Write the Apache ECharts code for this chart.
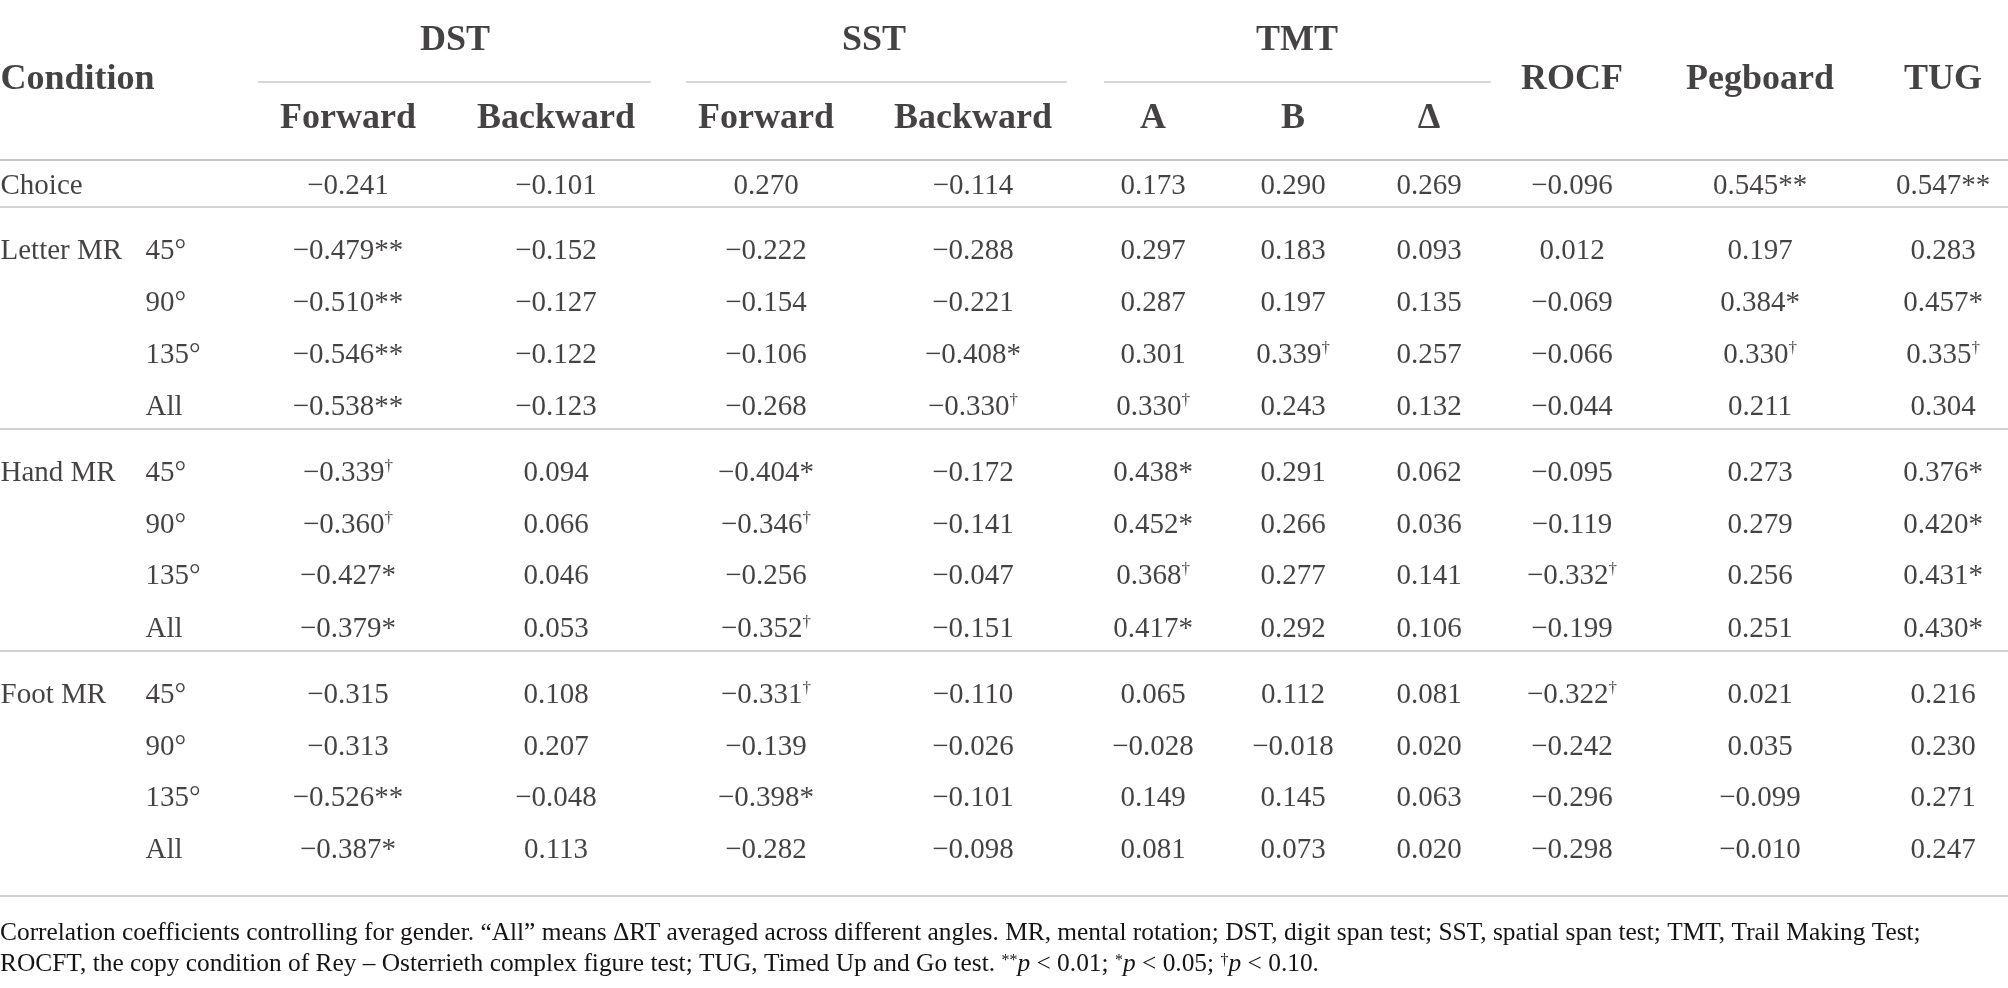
<!DOCTYPE html>
<html>
<head>
<meta charset="utf-8">
<script src="https://cdn.jsdelivr.net/npm/echarts@6/dist/echarts.min.js"></script>
<style>
  html, body { margin: 0; padding: 0; background: #fff; }
  #chart { width: 2008px; height: 988px; }
</style>
</head>
<body>
<div id="chart"></div>
<script>
// table content
const groups = ['Choice', 'Letter MR', 'Hand MR', 'Foot MR'];
const angles = ['45°', '90°', '135°', 'All'];
const testGroups = ['DST', 'SST', 'TMT'];
const subHeaders = ['Forward', 'Backward', 'Forward', 'Backward', 'A', 'B', 'Δ'];
const singleHeaders = ['ROCF', 'Pegboard', 'TUG'];

// one array per column, rows: Choice, Letter 45/90/135/All, Hand 45/90/135/All, Foot 45/90/135/All
const dstForward = ['-0.241', '-0.479**', '-0.510**', '-0.546**', '-0.538**', '-0.339†', '-0.360†', '-0.427*', '-0.379*', '-0.315', '-0.313', '-0.526**', '-0.387*'];
const dstBackward = ['-0.101', '-0.152', '-0.127', '-0.122', '-0.123', '0.094', '0.066', '0.046', '0.053', '0.108', '0.207', '-0.048', '0.113'];
const sstForward = ['0.270', '-0.222', '-0.154', '-0.106', '-0.268', '-0.404*', '-0.346†', '-0.256', '-0.352†', '-0.331†', '-0.139', '-0.398*', '-0.282'];
const sstBackward = ['-0.114', '-0.288', '-0.221', '-0.408*', '-0.330†', '-0.172', '-0.141', '-0.047', '-0.151', '-0.110', '-0.026', '-0.101', '-0.098'];
const tmtA = ['0.173', '0.297', '0.287', '0.301', '0.330†', '0.438*', '0.452*', '0.368†', '0.417*', '0.065', '-0.028', '0.149', '0.081'];
const tmtB = ['0.290', '0.183', '0.197', '0.339†', '0.243', '0.291', '0.266', '0.277', '0.292', '0.112', '-0.018', '0.145', '0.073'];
const tmtDelta = ['0.269', '0.093', '0.135', '0.257', '0.132', '0.062', '0.036', '0.141', '0.106', '0.081', '0.020', '0.063', '0.020'];
const rocf = ['-0.096', '0.012', '-0.069', '-0.066', '-0.044', '-0.095', '-0.119', '-0.332†', '-0.199', '-0.322†', '-0.242', '-0.296', '-0.298'];
const pegboard = ['0.545**', '0.197', '0.384*', '0.330†', '0.211', '0.273', '0.279', '0.256', '0.251', '0.021', '0.035', '-0.099', '-0.010'];
const tug = ['0.547**', '0.283', '0.457*', '0.335†', '0.304', '0.376*', '0.420*', '0.431*', '0.430*', '0.216', '0.230', '0.271', '0.247'];

const caption = 'Correlation coefficients controlling for gender. “All” means ΔRT averaged across different angles. MR, mental rotation; DST, digit span test; SST, spatial span test; TMT, Trail Making Test;\n' +
    'ROCFT, the copy condition of Rey – Osterrieth complex figure test; TUG, Timed Up and Go test. {s|**}{i|p} < 0.01; {s|*}{i|p} < 0.05; {s|†}{i|p} < 0.10.';

// layout (pixel units of the 2008x988 canvas)
const colX = [348, 556, 766, 973, 1153, 1293, 1429, 1572, 1760, 1943];
const rowY = [186, 251, 303, 355, 407, 473, 525, 576, 629, 695, 747, 798, 850];
const groupX = [455, 874, 1297];
const groupRuleX = [[258, 651], [686, 1067], [1104, 1491]];
const headY = { group: 41, rule: 82, sub: 119, single: 80 };
const ruleY = [160, 207, 429, 651, 896];

const FONT = 'Liberation Serif';
const INK = '#161314';

const columnsData = [dstForward, dstBackward, sstForward, sstBackward, tmtA, tmtB, tmtDelta, rocf, pegboard, tug];

const cells = [];
columnsData.forEach(function (col, c) {
    col.forEach(function (v, r) {
        cells.push({ name: v.replace('-', '−'), value: [colX[c], rowY[r]] });
    });
});

const rowLabels = [];
groups.forEach(function (g, gi) {
    const firstRow = gi === 0 ? 0 : 1 + (gi - 1) * 4;
    rowLabels.push({ name: g, value: [0, rowY[firstRow]] });
    if (gi > 0) {
        angles.forEach(function (a, ai) {
            rowLabels.push({ name: a, value: [145, rowY[firstRow + ai]] });
        });
    }
});

const headers = [{ name: 'Condition', value: [0, headY.single], label: { position: 'right', distance: 0 } }];
testGroups.forEach(function (t, i) {
    headers.push({ name: t, value: [groupX[i], headY.group] });
});
subHeaders.forEach(function (s, i) {
    headers.push({ name: s, value: [colX[i], headY.sub] });
});
singleHeaders.forEach(function (s, i) {
    headers.push({ name: s, value: [colX[7 + i], headY.single] });
});

const rules = ruleY.map(function (y, i) {
    return {
        coords: [[0, y], [2008, y]],
        lineStyle: { color: i === 0 ? '#8a8a8a' : '#a6a6a6', width: 2 }
    };
});
groupRuleX.forEach(function (xs) {
    rules.push({ coords: [[xs[0], headY.rule], [xs[1], headY.rule]], lineStyle: { color: '#b0b0b0', width: 2 } });
});

const chart = echarts.init(document.getElementById('chart'));

const textSeries = function (data, label) {
    return {
        type: 'scatter',
        symbolSize: 1,
        itemStyle: { color: 'rgba(0,0,0,0)' },
        silent: true,
        data: data,
        label: Object.assign({
            show: true,
            position: 'inside',
            color: INK,
            fontFamily: FONT,
            fontSize: 29
        }, label)
    };
};

chart.setOption({
    animation: false,
    backgroundColor: '#fff',
    grid: { left: 0, right: 0, top: 0, bottom: 0 },
    xAxis: { type: 'value', min: 0, max: 2008, show: false },
    yAxis: { type: 'value', min: 0, max: 988, inverse: true, show: false },
    title: {
        text: caption,
        left: 0,
        top: 918,
        padding: 0,
        textStyle: {
            fontFamily: FONT,
            fontWeight: 'normal',
            fontSize: 25.4,
            lineHeight: 31,
            color: INK,
            rich: {
                i: { fontFamily: FONT, fontStyle: 'italic', fontSize: 25.4, lineHeight: 31, color: INK },
                s: { fontFamily: FONT, fontSize: 16, lineHeight: 31, verticalAlign: 'top', color: INK, padding: [4, 0, 0, 0] }
            }
        }
    },
    series: [
        {
            type: 'lines',
            coordinateSystem: 'cartesian2d',
            silent: true,
            data: rules
        },
        textSeries(cells, {
            formatter: function (p) {
                return p.name.replace('†', '{d|†}');
            },
            rich: {
                d: { fontFamily: FONT, fontSize: 17, lineHeight: 29, verticalAlign: 'top', color: INK }
            }
        }),
        textSeries(rowLabels, { position: 'right', distance: 0, formatter: '{b}' }),
        textSeries(headers, { fontWeight: 'bold', fontSize: 36, formatter: '{b}' })
    ]
});
</script>
</body>
</html>
